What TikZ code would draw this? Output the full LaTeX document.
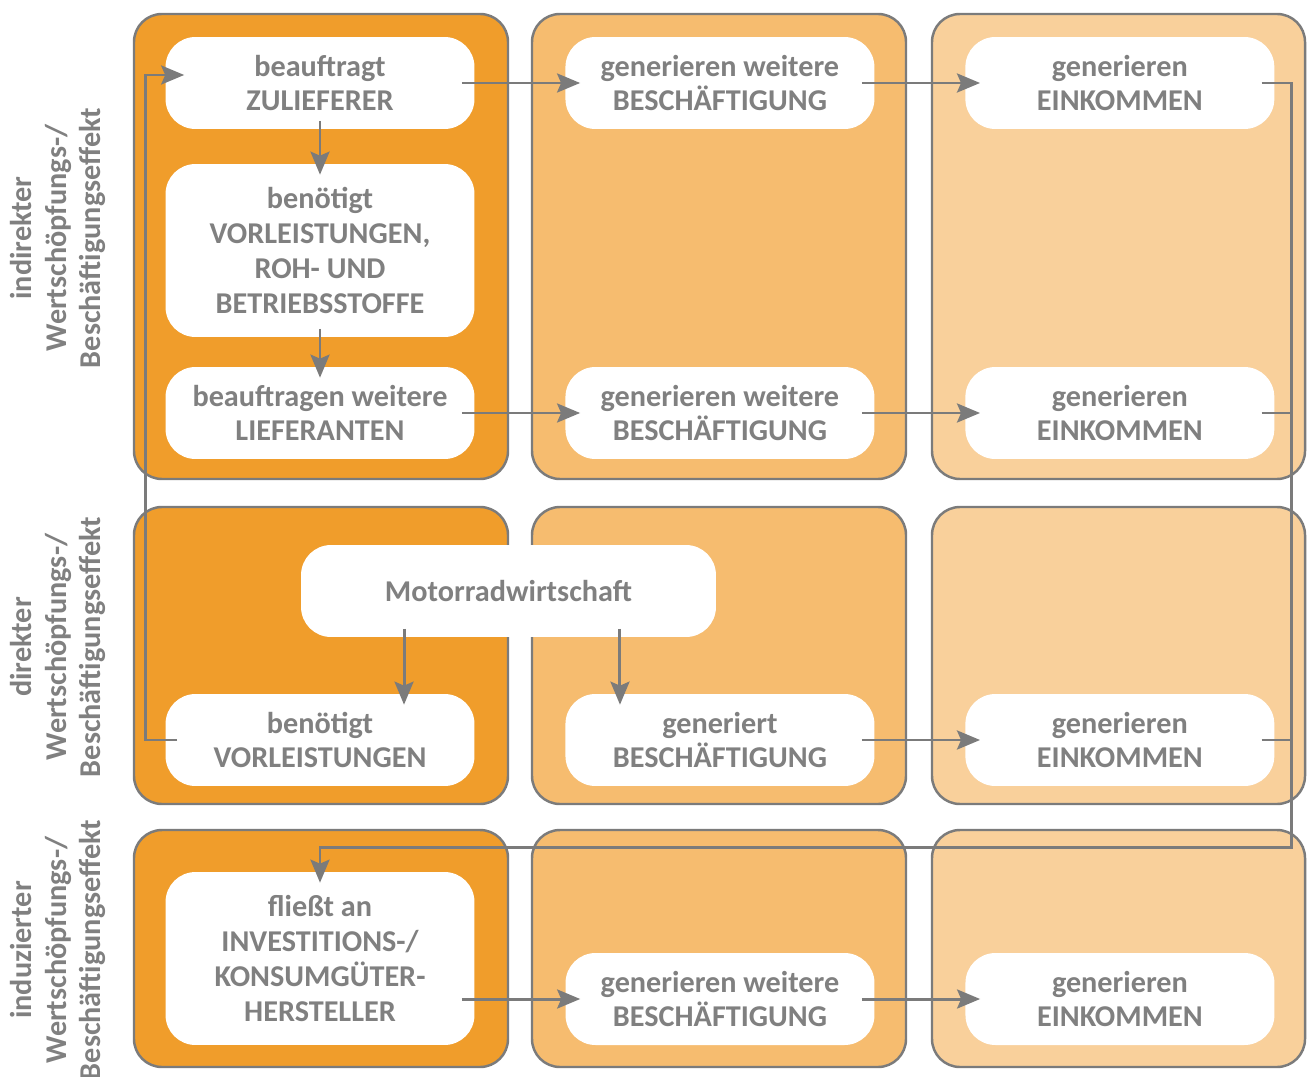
\documentclass[tikz,border=0pt]{standalone}
\usepackage{fontspec}
\setmainfont{Carlito}
\usetikzlibrary{positioning,arrows.meta}
\definecolor{dunkelorange}{HTML}{F09D2B}
\definecolor{mittelorange}{HTML}{F6BC6F}
\definecolor{hellorange}{HTML}{F9D09B}
\definecolor{grau}{HTML}{7B7B7B}
\definecolor{schrift}{HTML}{808080}

\begin{document}
\begin{tikzpicture}[x=0.02cm,y=-0.02cm,node distance=8cm,on grid,
    font=\bfseries\fontsize{17.2}{19.8}\selectfont,
    panel/.style={draw=grau,line width=1.4pt,rounded corners=0.56cm},
    box/.style={fill=white,text=schrift,align=center,rounded corners=0.6cm,
        minimum width=6.18cm,minimum height=1.84cm,inner sep=0pt},
    effekt/.style={rotate=90,align=center,text=schrift},
    linie/.style={draw=grau,line width=1.7pt},
    pfeil/.style={linie,-{Stealth[length=0.46cm,width=0.38cm,inset=0.08cm]}},
    quer/.style={pfeil,shorten <=-0.26cm,shorten >=-0.3cm},
    runter/.style={pfeil,shorten <=-0.17cm,shorten >=-0.22cm}]
    \useasboundingbox (0,0) rectangle (1307,1077);
    \foreach \xa/\xb/\farbe in {134/508/dunkelorange,532/906/mittelorange,932/1305/hellorange}
        \foreach \ya/\yb in {14/479,507/804,830/1067}
            \path[panel,fill=\farbe] (\xa,\ya) rectangle (\xb,\yb);

    \node[effekt] (indirekt) at (58,238) {indirekter\\Wertschöpfungs-/\\Beschäftigungseffekt};
    \node[effekt] (direkt)   at (58,647) {direkter\\Wertschöpfungs-/\\Beschäftigungseffekt};
    \node[effekt] (induziert) at (58,950) {induzierter\\Wertschöpfungs-/\\Beschäftigungseffekt};

    \node[box] (zuliefer) at (320,83) {beauftragt\\ZULIEFERER};
    \node[box,minimum height=3.46cm] (vorleist_a) at (320,250.5) {benötigt\\VORLEISTUNGEN,\\ROH- UND\\BETRIEBSSTOFFE};
    \node[box] (liefer)   at (320,413) {beauftragen weitere\\LIEFERANTEN};
    \node[box] (besch_a)  [right=of zuliefer] {generieren weitere\\BESCHÄFTIGUNG};
    \node[box] (eink_a)   [right=of besch_a]  {generieren\\EINKOMMEN};
    \node[box] (besch_b)  [right=of liefer]   {generieren weitere\\BESCHÄFTIGUNG};
    \node[box] (eink_b)   [right=of besch_b]  {generieren\\EINKOMMEN};
    \node[box,minimum width=8.3cm] (motorrad) at (508.5,591) {Motorradwirtschaft};
    \node[box] (vorleist_b) at (320,740) {benötigt\\VORLEISTUNGEN};
    \node[box] (besch_c)  [right=of vorleist_b] {generiert\\BESCHÄFTIGUNG};
    \node[box] (eink_c)   [right=of besch_c]  {generieren\\EINKOMMEN};
    \node[box,minimum height=3.46cm] (invest) at (320,958.5) {fließt an\\INVESTITIONS-/\\KONSUMGÜTER-\\HERSTELLER};
    \node[box] (besch_d)  at (720,999) {generieren weitere\\BESCHÄFTIGUNG};
    \node[box] (eink_d)   [right=of besch_d]  {generieren\\EINKOMMEN};
    \coordinate (rechts) at (1291,847);

    \path
    (zuliefer)   edge[runter] (vorleist_a)
    (vorleist_a) edge[runter] (liefer)
    (zuliefer)   edge[quer] (besch_a)
    (besch_a)    edge[quer] (eink_a)
    (liefer)     edge[quer] (besch_b)
    (besch_b)    edge[quer] (eink_b)
    (besch_c)    edge[quer] (eink_c)
    (invest.east |- besch_d) edge[quer] (besch_d)
    (besch_d)    edge[quer] (eink_d)
    ([xshift=-2.09cm]motorrad.south) edge[runter] ([xshift=-2.09cm]motorrad.south |- vorleist_b.north)
    ([xshift=2.23cm]motorrad.south)  edge[runter] ([xshift=2.23cm]motorrad.south |- besch_c.north);
    \draw[pfeil] ([xshift=0.24cm]vorleist_b.west) -| ([xshift=-0.4cm,yshift=0.16cm]zuliefer.west)
        -- ([xshift=0.38cm,yshift=0.16cm]zuliefer.west);
    \draw[pfeil] ([xshift=-0.26cm]eink_a.east) -| (rechts) -| ([yshift=-0.22cm]invest.north);
    \draw[linie] ([xshift=-0.26cm]eink_b.east) -- (eink_b.east -| rechts);
    \draw[linie] ([xshift=-0.26cm]eink_c.east) -- (eink_c.east -| rechts);
\end{tikzpicture}
\end{document}
